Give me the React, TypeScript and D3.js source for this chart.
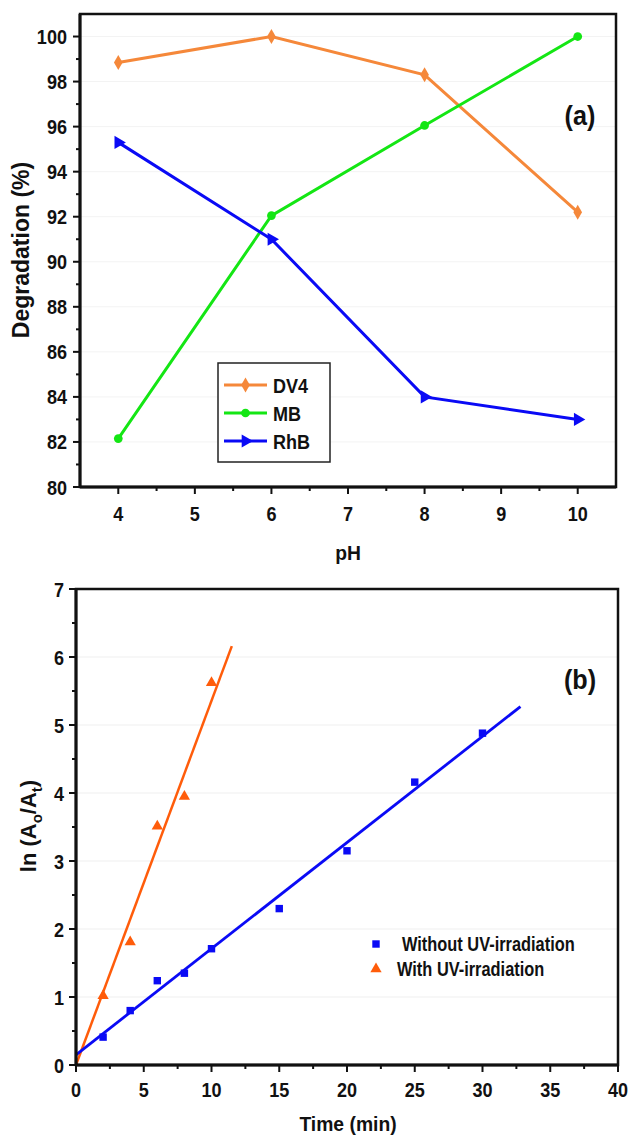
import React from "react";
import * as d3 from "d3";

// (a) degradation vs pH
const phValues = [4, 6, 8, 10];
const dv4 = [98.85, 100, 98.3, 92.2];
const mb = [82.15, 92.05, 96.05, 100];
const rhb = [95.3, 91.0, 84.0, 83.0];
const phTicks = [4, 5, 6, 7, 8, 9, 10];
const degTicks = [80, 82, 84, 86, 88, 90, 92, 94, 96, 98, 100];

// (b) kinetics
const timeWithout = [2, 4, 6, 8, 10, 15, 20, 25, 30];
const lnWithout = [0.41, 0.8, 1.24, 1.35, 1.71, 2.3, 3.15, 4.16, 4.88];
const timeWith = [2, 4, 6, 8, 10];
const lnWith = [1.02, 1.81, 3.51, 3.95, 5.62];
const fitWithoutX = [0, 32.8];
const fitWithoutY = [0.15, 5.27];
const fitWithX = [0, 11.5];
const fitWithY = [0, 6.16];
const timeTicks = [0, 5, 10, 15, 20, 25, 30, 35, 40];
const lnTicks = [0, 1, 2, 3, 4, 5, 6, 7];

const ORANGE_A = "#f5883a";
const GREEN = "#14e614";
const BLUE = "#0a0af5";
const ORANGE_B = "#ff5c0a";
const FONT = "'Liberation Sans', Arial, sans-serif";

const sym = (type: d3.SymbolType, size: number) => d3.symbol().type(type).size(size)()!;

// condensed-looking text: the reference glyphs are narrow
function T(props: {
  x: number;
  y: number;
  size: number;
  sx?: number;
  anchor?: string;
  weight?: string | number;
  children: React.ReactNode;
}) {
  const { x, y, size, sx = 0.86, anchor = "start", weight = "bold", children } = props;
  return (
    <text
      transform={`translate(${x},${y}) scale(${sx},1)`}
      textAnchor={anchor}
      fontFamily={FONT}
      fontWeight={weight}
      fontSize={size}
      fill="#111"
    >
      {children}
    </text>
  );
}

function Frame({ x, y }: { x: d3.ScaleLinear<number, number>; y: d3.ScaleLinear<number, number> }) {
  const [x0, x1] = x.range();
  const [y0, y1] = y.range();
  return (
    <g>
      <rect x={x0} y={y1} width={x1 - x0} height={y0 - y1} fill="none" stroke="#111" strokeWidth={2.5} />
      <line x1={x0} x2={x1} y1={y0} y2={y0} stroke="#111" strokeWidth={3} />
      <line x1={x0} x2={x0} y1={y0} y2={y1} stroke="#111" strokeWidth={3} />
    </g>
  );
}

function Chart() {
  const xA = d3.scaleLinear().domain([3.5, 10.5]).range([80, 616]);
  const yA = d3.scaleLinear().domain([80, 101]).range([487, 14]);
  const xB = d3.scaleLinear().domain([0, 40]).range([76, 618]);
  const yB = d3.scaleLinear().domain([0, 7]).range([1065, 589]);

  const lineA = (vals: number[]) =>
    d3.line<number>().x((_, i) => xA(phValues[i])).y((d) => yA(d))(vals)!;
  const lineB = (xs: number[], ys: number[]) =>
    d3.line<number>().x((d) => xB(d)).y((_, i) => yB(ys[i]))(xs)!;

  const seriesA = [
    { name: "DV4", vals: dv4, color: ORANGE_A, path: sym(d3.symbolDiamond, 65), rot: 0 },
    { name: "MB", vals: mb, color: GREEN, path: sym(d3.symbolCircle, 60), rot: 0 },
    { name: "RhB", vals: rhb, color: BLUE, path: sym(d3.symbolTriangle, 75), rot: 90 },
  ];

  const minorPh = d3.range(4.5, 10.5, 1);
  const minorDeg = d3.range(81, 101, 2);
  const minorTime = d3.range(2.5, 40, 5);
  const minorLn = d3.range(0.5, 7, 1);

  const tri = sym(d3.symbolTriangle, 55);
  const sq = sym(d3.symbolSquare, 55);

  return (
    <svg width={628} height={1138} style={{ position: "absolute", left: 0, top: 0, background: "#fff" }}>
      {/* ---------- (a) ---------- */}
      {degTicks.map((t) => (
        <line key={"ga" + t} x1={80} x2={616} y1={yA(t)} y2={yA(t)} stroke="#f3f3f3" strokeWidth={1} />
      ))}
      {seriesA.map((s) => (
        <path key={s.name} d={lineA(s.vals)} fill="none" stroke={s.color} strokeWidth={3} />
      ))}
      {seriesA.map((s) =>
        s.vals.map((v, i) => (
          <path
            key={s.name + i}
            d={s.path}
            fill={s.color}
            transform={`translate(${xA(phValues[i])},${yA(v)}) rotate(${s.rot})`}
          />
        ))
      )}
      <Frame x={xA} y={yA} />
      {phTicks.map((t) => (
        <g key={"xa" + t}>
          <line x1={xA(t)} x2={xA(t)} y1={487} y2={494} stroke="#111" strokeWidth={2} />
          <T x={xA(t)} y={521} size={21} anchor="middle">
            {t}
          </T>
        </g>
      ))}
      {minorPh.map((t) => (
        <line key={"mxa" + t} x1={xA(t)} x2={xA(t)} y1={487} y2={491} stroke="#111" strokeWidth={2} />
      ))}
      {degTicks.map((t) => (
        <g key={"ya" + t}>
          <line x1={73} x2={80} y1={yA(t)} y2={yA(t)} stroke="#111" strokeWidth={2} />
          <T x={67} y={yA(t) + 7.5} size={21} anchor="end">
            {t}
          </T>
        </g>
      ))}
      {minorDeg.map((t) => (
        <line key={"mya" + t} x1={76} x2={80} y1={yA(t)} y2={yA(t)} stroke="#111" strokeWidth={2} />
      ))}
      <text
        transform="translate(29,250) rotate(-90)"
        textAnchor="middle"
        fontFamily={FONT}
        fontWeight="bold"
        fontSize={23}
        fill="#111"
      >
        Degradation (%)
      </text>
      <T x={348} y={560} size={21} anchor="middle" sx={0.92}>
        pH
      </T>
      <T x={580} y={125} size={28} anchor="middle" sx={0.9}>
        (a)
      </T>
      {/* legend (a) */}
      <rect x={218} y={363} width={112} height={99} fill="#fff" stroke="#222" strokeWidth={1.5} />
      {seriesA.map((s, i) => {
        const ly = 385 + i * 28;
        return (
          <g key={"lg" + s.name}>
            <line x1={224} x2={267} y1={ly} y2={ly} stroke={s.color} strokeWidth={3} />
            <path d={s.path} fill={s.color} transform={`translate(245.5,${ly}) rotate(${s.rot})`} />
            <T x={273} y={ly + 7.5} size={21}>
              {s.name}
            </T>
          </g>
        );
      })}

      {/* ---------- (b) ---------- */}
      {lnTicks.map((t) => (
        <line key={"gb" + t} x1={76} x2={618} y1={yB(t)} y2={yB(t)} stroke="#efefef" strokeWidth={1.2} />
      ))}
      <path d={lineB(fitWithX, fitWithY)} fill="none" stroke={ORANGE_B} strokeWidth={2.5} />
      <path d={lineB(fitWithoutX, fitWithoutY)} fill="none" stroke={BLUE} strokeWidth={2.8} />
      {timeWithout.map((t, i) => (
        <path key={"sq" + i} d={sq} fill={BLUE} transform={`translate(${xB(t)},${yB(lnWithout[i])})`} />
      ))}
      {timeWith.map((t, i) => (
        <path key={"tr" + i} d={tri} fill={ORANGE_B} transform={`translate(${xB(t)},${yB(lnWith[i])})`} />
      ))}
      <Frame x={xB} y={yB} />
      {timeTicks.map((t) => (
        <g key={"xb" + t}>
          <line x1={xB(t)} x2={xB(t)} y1={1065} y2={1072} stroke="#111" strokeWidth={2} />
          <T x={xB(t)} y={1097} size={21} anchor="middle">
            {t}
          </T>
        </g>
      ))}
      {minorTime.map((t) => (
        <line key={"mxb" + t} x1={xB(t)} x2={xB(t)} y1={1065} y2={1069} stroke="#111" strokeWidth={2} />
      ))}
      {lnTicks.map((t) => (
        <g key={"yb" + t}>
          <line x1={69} x2={76} y1={yB(t)} y2={yB(t)} stroke="#111" strokeWidth={2} />
          <T x={64} y={yB(t) + 7.5} size={21} anchor="end">
            {t}
          </T>
        </g>
      ))}
      {minorLn.map((t) => (
        <line key={"myb" + t} x1={72} x2={76} y1={yB(t)} y2={yB(t)} stroke="#111" strokeWidth={2} />
      ))}
      <text
        transform="translate(36,826) rotate(-90)"
        textAnchor="middle"
        fontFamily={FONT}
        fontWeight="bold"
        fontSize={22}
        fill="#111"
      >
        ln (A<tspan fontSize={15} dy={6}>o</tspan>
        <tspan dy={-6}>/A</tspan>
        <tspan fontSize={15} dy={6}>t</tspan>
        <tspan dy={-6}>)</tspan>
      </text>
      <T x={348} y={1131} size={21} anchor="middle" sx={0.92}>
        Time (min)
      </T>
      <T x={580} y={689} size={28} anchor="middle" sx={0.9}>
        (b)
      </T>
      {/* legend (b) */}
      <path d={sq} fill={BLUE} transform="translate(376,944)" />
      <T x={402} y={951} size={20} sx={0.82}>
        Without UV-irradiation
      </T>
      <path d={tri} fill={ORANGE_B} transform="translate(376,969)" />
      <T x={397} y={976} size={20} sx={0.82}>
        With UV-irradiation
      </T>
    </svg>
  );
}

export default function App() {
  return <Chart />;
}
